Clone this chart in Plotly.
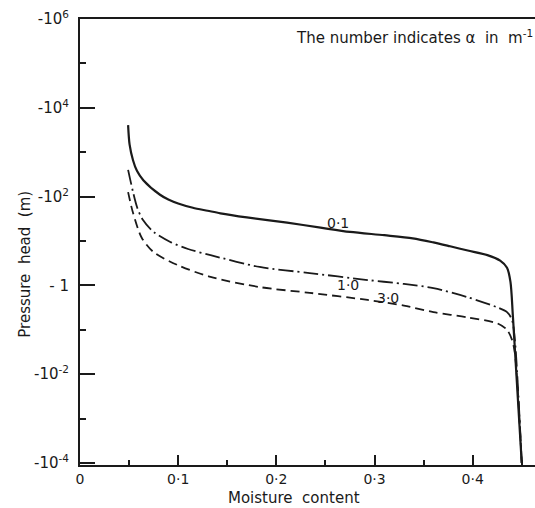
import plotly.graph_objects as go

# Moisture content (theta) and pressure head h (m, negative)
theta_01 = [0.049, 0.0505, 0.054, 0.058, 0.0645, 0.0815, 0.09, 0.10, 0.115, 0.13, 0.143, 0.17, 0.211, 0.245, 0.275, 0.31, 0.339, 0.36, 0.377, 0.395, 0.415, 0.428, 0.435, 0.4385, 0.441, 0.450]
h_01 = [-4070, -1500, -660, -380, -234, -110, -86, -70, -56, -48, -42, -34, -26, -20, -16, -13.5, -11.5, -9.3, -7.6, -6.1, -4.8, -3.6, -2.5, -1.2, -0.2, -0.0001]

theta_10 = [0.049, 0.058, 0.064, 0.075, 0.092, 0.11, 0.133, 0.183, 0.234, 0.293, 0.330, 0.360, 0.394, 0.425, 0.435, 0.440, 0.443, 0.450]
h_10 = [-400, -59, -30, -16, -9.5, -6.6, -4.8, -2.6, -1.9, -1.32, -1.08, -0.87, -0.55, -0.32, -0.25, -0.17, -0.059, -0.0001]

theta_30 = [0.049, 0.054, 0.063, 0.075, 0.099, 0.133, 0.184, 0.234, 0.293, 0.330, 0.360, 0.395, 0.425, 0.435, 0.440, 0.443, 0.450]
h_30 = [-126, -43, -11.7, -5.6, -2.9, -1.55, -0.91, -0.68, -0.47, -0.35, -0.25, -0.19, -0.14, -0.1, -0.06, -0.03, -0.0001]

curve_labels = ["0·1", "1·0", "3·0"]
label_theta = [0.263, 0.273, 0.314]
label_logh = [1.41, 0.01, -0.28]

x_tickvals = [0, 0.1, 0.2, 0.3, 0.4]
x_ticktext = ["0", "0·1", "0·2", "0·3", "0·4"]
y_tickvals = [1e6, 1e4, 1e2, 1, 1e-2, 1e-4]
y_ticktext = ["-10<sup>6</sup>", "-10<sup>4</sup>", "-10<sup>2</sup>", "- 1",
              "-10<sup>-2</sup>", "-10<sup>-4</sup>"]

ink = "#1a1a1a"
font = "DejaVu Sans"

fig = go.Figure()
fig.add_trace(go.Scatter(x=theta_01, y=[-v for v in h_01], mode="lines",
                         line=dict(color=ink, width=2.2, shape="spline", smoothing=0.8),
                         showlegend=False))
fig.add_trace(go.Scatter(x=theta_10, y=[-v for v in h_10], mode="lines",
                         line=dict(color=ink, width=1.8, dash="15px,4px,2px,4px",
                                   shape="spline", smoothing=0.8), showlegend=False))
fig.add_trace(go.Scatter(x=theta_30, y=[-v for v in h_30], mode="lines",
                         line=dict(color=ink, width=1.8, dash="9px,5px",
                                   shape="spline", smoothing=0.8), showlegend=False))

for t, xv, yv in zip(curve_labels, label_theta, label_logh):
    fig.add_annotation(x=xv, y=yv, text=t, showarrow=False, xref="x", yref="y",
                       font=dict(family=font, size=14, color=ink))

fig.add_annotation(xref="paper", yref="paper", x=1.0, y=0.96, xanchor="right", yanchor="middle",
                   text="The number indicates α  in  m<sup>-1</sup>", showarrow=False,
                   font=dict(family=font, size=15, color=ink))
fig.add_annotation(xref="paper", yref="paper", x=-0.12, y=0.45, xanchor="center", yanchor="middle",
                   textangle=-90, text="Pressure  head  (m)", showarrow=False,
                   font=dict(family=font, size=15, color=ink))
fig.add_annotation(xref="paper", yref="paper", x=0.47, y=-0.075, xanchor="center", yanchor="middle",
                   text="Moisture  content", showarrow=False,
                   font=dict(family=font, size=15, color=ink))

fig.update_layout(
    width=535, height=508,
    margin=dict(l=80, r=0, t=19, b=43),
    paper_bgcolor="white", plot_bgcolor="white",
    font=dict(family=font, size=14, color=ink),
    xaxis=dict(range=[0, 0.4635], showgrid=False, zeroline=False, showline=True,
               linecolor=ink, linewidth=2, mirror=True,
               ticks="inside", ticklen=10, tickwidth=2, tickcolor=ink,
               tickvals=x_tickvals, ticktext=x_ticktext,
               minor=dict(tickvals=[0.05, 0.15, 0.25, 0.35, 0.45], ticks="inside",
                          ticklen=5, tickwidth=2, tickcolor=ink, showgrid=False),
               tickfont=dict(family=font, size=14, color=ink)),
    yaxis=dict(type="log", range=[-4.045, 6.0], showgrid=False, zeroline=False,
               showline=True, linecolor=ink, linewidth=2, mirror=False,
               ticks="inside", ticklen=15, tickwidth=2, tickcolor=ink,
               tickvals=y_tickvals, ticktext=y_ticktext, ticklabelstandoff=6,
               minor=dict(tickvals=[1e5, 1e3, 1e1, 1e-1, 1e-3], ticks="inside",
                          ticklen=6, tickwidth=2, tickcolor=ink, showgrid=False),
               tickfont=dict(family=font, size=15, color=ink)),
)

fig.write_html("out.html")
